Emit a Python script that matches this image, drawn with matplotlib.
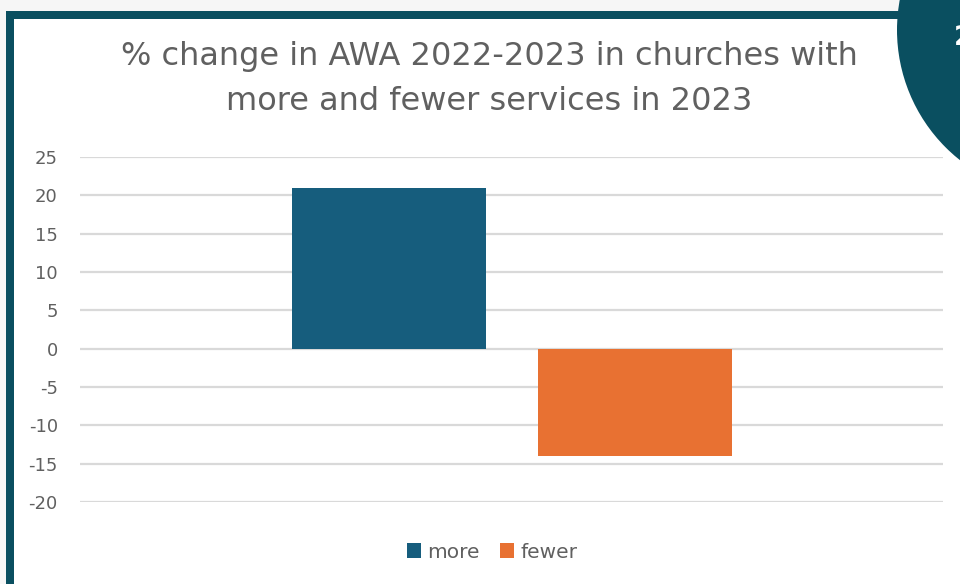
import matplotlib
matplotlib.use("Agg")
import matplotlib.pyplot as plt
from matplotlib.patches import Rectangle, Circle

plt.rcParams["axes.unicode_minus"] = False

# Data
series = ["more", "fewer"]
values = [21, -14]
colors = ["#165d7d", "#e87132"]
yticks = [25, 20, 15, 10, 5, 0, -5, -10, -15, -20]
title = "% change in AWA 2022-2023 in churches with\nmore and fewer services in 2023"

W, H = 960, 584
fig = plt.figure(figsize=(W / 100, H / 100), dpi=100)
fig.patch.set_facecolor("white")

frame_col = "#0a4f60"
text_col = "#606060"

# outer light margin, dark frame and corner badge
bg = fig.add_axes([0, 0, 1, 1], zorder=0)
bg.set_xlim(0, W)
bg.set_ylim(H, 0)
bg.axis("off")
bg.add_patch(Rectangle((0, 0), W, 11, color="#f6f6f6", lw=0))
bg.add_patch(Rectangle((0, 0), 6, H, color="#f6f6f6", lw=0))
bg.add_patch(Rectangle((6, 11), 900, 8, color=frame_col, lw=0))
bg.add_patch(Rectangle((6, 11), 8, H, color=frame_col, lw=0))
bg.add_patch(Circle((1063, 30), 166, color=frame_col, lw=0))
bg.text(954, 38, "2", color="white", fontsize=19, fontweight="bold",
        ha="left", va="center")

# chart
ax = fig.add_axes([80 / W, (584 - 502) / H, 863 / W, 345 / H], zorder=1)
ax.patch.set_alpha(0)
width = 0.225
offsets = [-0.1415, 0.1435]
for name, v, c, o in zip(series, values, colors, offsets):
    ax.bar(o, v, width=width, color=c, label=name, zorder=3)

ax.set_xlim(-0.5, 0.5)
ax.set_ylim(-20, 25)
ax.set_yticks(yticks)
ax.set_xticks([])
ax.grid(axis="y", color="#d9d9d9", lw=1.6, zorder=0)
ax.tick_params(axis="y", length=0, pad=16, labelsize=13, labelcolor=text_col)
for s in ax.spines.values():
    s.set_visible(False)

fig.text(489 / W, 1 - 79 / H, title, ha="center", va="center",
         fontsize=23, color=text_col, linespacing=1.55)

leg = fig.legend(loc="center", bbox_to_anchor=(492 / W, 1 - 552 / H), ncol=2,
                 frameon=False, fontsize=14.5, labelcolor=text_col,
                 handlelength=0.7, handleheight=0.7, handletextpad=0.3,
                 columnspacing=1.05)

fig.savefig("out.png", dpi=100, facecolor=fig.get_facecolor())
